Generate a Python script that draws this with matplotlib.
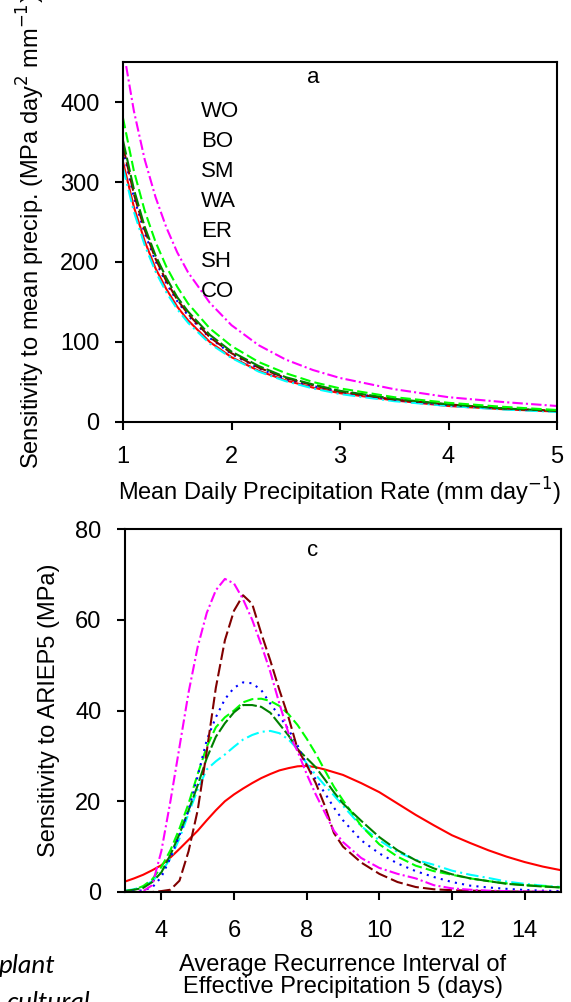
import matplotlib.pyplot as plt

plt.rcParams['font.family'] = ['Liberation Sans', 'DejaVu Sans']

# ---- panel a : sensitivity to mean precipitation ----
rate = [1.0, 1.1, 1.2, 1.3, 1.4, 1.5, 1.6, 1.8, 2.0, 2.25, 2.5, 2.75, 3.0, 3.5, 4.0, 4.5, 5.0]
a_magenta = [468, 389, 328, 281, 243, 212, 187, 149, 121, 96, 78, 65, 55, 41, 31, 25, 20]
a_lime = [380, 314, 264, 225, 194, 169, 148, 117, 95, 75, 61, 50, 42, 31, 24, 19, 15]
a_dkgreen = [352, 291, 244, 208, 180, 156, 138, 109, 88, 70, 56, 47, 39, 29, 22, 17, 14]
a_maroon = [345, 285, 240, 204, 176, 153, 135, 106, 86, 68, 55, 46, 38, 28, 22, 17, 14]
a_blue = [340, 281, 236, 201, 173, 151, 133, 105, 85, 67, 54, 45, 38, 28, 21, 17, 13.6]
a_red = [325, 269, 226, 192, 166, 144, 127, 100, 81, 64, 52, 43, 36, 27, 20, 16, 13]
a_cyan = [318, 263, 221, 188, 162, 141, 124, 98, 80, 63, 51, 42, 35, 26, 20, 15.7, 12.5]

sites = ['WO', 'BO', 'SM', 'WA', 'ER', 'SH', 'CO']

# ---- panel c : sensitivity to ARIEP5 ----
ari = [3, 3.25, 3.5, 3.75, 4, 4.25, 4.5, 4.75, 5, 5.25, 5.5, 5.75, 6, 6.25, 6.5, 6.75,
       7, 7.25, 7.5, 7.75, 8, 8.25, 8.5, 8.75, 9, 9.5, 10, 10.5, 11, 11.5, 12, 12.5,
       13, 13.5, 14, 14.5, 15]
c_magenta = [0, 0, 0.2, 1.5, 9, 20, 32, 44, 54, 61.5, 66.5, 69, 68, 64.5, 60, 54.5,
             48.5, 41.5, 35, 31, 26, 21.5, 17.5, 13.5, 11, 7.5, 5.3, 4, 3, 1.5, 0.8, 0.5,
             0.3, 0.2, 0.1, 0.1, 0]
c_maroon = [0, 0, 0, 0, 0.2, 0.5, 2.5, 9, 18, 31, 45, 55.5, 62, 65.4, 63.5, 57,
            51, 44.5, 38.5, 31.5, 28, 24, 19, 13, 10, 6.5, 4, 2.2, 1.1, 0.6, 0.4, 0.3,
            0.2, 0.1, 0.1, 0, 0]
c_blue = [0, 0.1, 0.4, 1, 3.3, 7.5, 12.5, 18, 25.5, 33.5, 38.5, 42.5, 45, 46.2, 46, 44.5,
          41.5, 38.8, 35.8, 32.3, 28, 24.8, 21.8, 18.6, 15.8, 11.4, 8.5, 6.3, 4.6, 3.3, 2.2, 1.4,
          1, 0.7, 0.45, 0.3, 0.2]
c_lime = [0.2, 0.5, 1.3, 2.8, 5.5, 9.2, 14, 19.5, 26, 32, 36.3, 38.5, 40, 41.8, 42.5, 42.6,
          42.1, 41, 39.2, 36.8, 33.8, 30.5, 26.8, 23.2, 20.2, 14.6, 10.5, 7.8, 5.8, 4.6, 3.8, 3,
          2.4, 1.9, 1.5, 1.3, 1.0]
c_dkgreen = [0.2, 0.5, 0.9, 2.2, 4.3, 8.2, 12.8, 18, 23.5, 29.5, 34.2, 37.2, 39.6, 41.2, 41.2, 40.8,
             39.5, 37, 34.5, 31.5, 29.5, 27.5, 24.8, 22, 19.5, 15.7, 12.1, 9.2, 7, 5.2, 3.9, 3,
             2.4, 1.8, 1.5, 1.2, 1.0]
c_cyan = [0.3, 0.6, 1.2, 2.4, 4.4, 7.4, 11.8, 17.3, 22.6, 27, 28.8, 30.3, 32, 33.6, 34.6, 35.3,
          35.5, 35, 33.6, 31.5, 28.3, 25.8, 23.5, 21.3, 19, 14.5, 11.4, 8.8, 7.1, 6, 4.7, 3.8,
          3.1, 2.3, 1.8, 1.4, 1.1]
c_red = [2.3, 3, 3.8, 4.8, 5.9, 7.6, 9.5, 11.5, 13.5, 15.8, 18, 20, 21.5, 22.8, 24, 25.1,
         26, 26.8, 27.3, 27.7, 27.8, 27.5, 27, 26.4, 25.8, 24, 22, 19.5, 17, 14.7, 12.5, 10.8,
         9.2, 7.8, 6.6, 5.6, 4.8]

# line styles shared by both panels
styles = {
    'magenta': dict(color='#FF00FF', ls=(0, (5, 1.5, 1, 1.5))),
    'maroon': dict(color='#800000', ls=(0, (6, 2))),
    'blue': dict(color='#0000FF', ls=(0, (1, 2.5))),
    'lime': dict(color='#00FF00', ls=(0, (5, 2))),
    'dkgreen': dict(color='#008000', ls=(0, (7, 1.5))),
    'cyan': dict(color='#00FFFF', ls=(0, (6, 2, 1, 2))),
    'red': dict(color='#FF0000', ls='-'),
}

FS = 17

fig = plt.figure(figsize=(5.71, 10.02), dpi=100)
ax1 = fig.add_axes([123/571, 1-422/1002, 434/571, 360/1002])
ax2 = fig.add_axes([125/571, 1-892/1002, 436/571, 363/1002])

for key, y in [('red', a_red), ('cyan', a_cyan), ('blue', a_blue), ('maroon', a_maroon),
               ('dkgreen', a_dkgreen), ('lime', a_lime), ('magenta', a_magenta)]:
    ax1.plot(rate, y, lw=1.5, **styles[key])

for key, y in [('red', c_red), ('cyan', c_cyan), ('lime', c_lime), ('dkgreen', c_dkgreen),
               ('blue', c_blue), ('maroon', c_maroon), ('magenta', c_magenta)]:
    ax2.plot(ari, y, lw=1.5, **styles[key])

ax1.set_xlim(1, 5)
ax1.set_ylim(0, 450)
ax1.set_xticks([1, 2, 3, 4, 5])
ax1.set_yticks([0, 100, 200, 300, 400])
ax1.set_xlabel('Mean Daily Precipitation Rate (mm day$^{-1}$)', fontsize=FS)
ax1.set_ylabel('Sensitivity to mean precip. (MPa day$^{2}$ mm$^{-1}$)', fontsize=FS)
ax1.xaxis.set_label_coords(0.5, -0.15)
ax1.yaxis.set_label_coords(-0.175, 0.528)
ax1.text(0.438, 0.958, 'a', transform=ax1.transAxes, ha='center', va='center', fontsize=FS-1)
for i, s in enumerate(sites):
    ax1.text(0.18, 0.862 - i*0.0833, s, transform=ax1.transAxes, ha='left', va='center',
             fontsize=FS-1)

ax2.set_xlim(3, 15)
ax2.set_ylim(0, 80)
ax2.set_xticks([4, 6, 8, 10, 12, 14])
ax2.set_yticks([0, 20, 40, 60, 80])
ax2.set_xlabel('Average Recurrence Interval of\nEffective Precipitation 5 (days)',
               fontsize=FS, linespacing=1.0)
ax2.set_ylabel('Sensitivity to ARIEP5 (MPa)', fontsize=FS)
ax2.xaxis.set_label_coords(0.5, -0.171)
ax2.yaxis.set_label_coords(-0.15, 0.5)
ax2.text(0.431, 0.94, 'c', transform=ax2.transAxes, ha='center', va='center', fontsize=FS-1)

for ax in (ax1, ax2):
    for sp in ax.spines.values():
        sp.set_linewidth(1.5)
    ax.tick_params(direction='out', length=6, width=1.5, labelsize=FS, pad=11)
ax2.tick_params(axis='x', pad=14)

# bits of the surrounding page text that were cut into the image
fig.text(56/571, 1-973/1002, 'plant', ha='right', va='baseline', fontsize=19,
         style='italic', family='Lato')
fig.text(90/571, 1-1010/1002, 'cultural', ha='right', va='baseline', fontsize=19,
         style='italic', family='Lato')

fig.savefig('out.png', dpi=100)
